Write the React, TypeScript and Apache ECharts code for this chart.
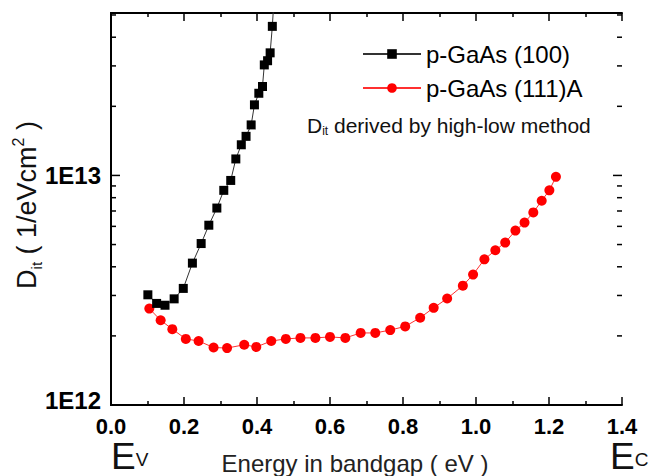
import React, { useEffect, useRef } from "react";
import * as echarts from "echarts";

const energyP100 = [0.101, 0.125, 0.148, 0.173, 0.198, 0.223, 0.247, 0.268, 0.290, 0.309, 0.328, 0.342, 0.357, 0.370, 0.384, 0.393, 0.405, 0.415, 0.420, 0.429, 0.436, 0.442, 0.447];
const ditP100 = [3.02e12, 2.77e12, 2.72e12, 2.90e12, 3.22e12, 4.15e12, 5.05e12, 6.07e12, 7.21e12, 8.61e12, 9.51e12, 1.18e13, 1.36e13, 1.48e13, 1.66e13, 2.03e13, 2.28e13, 2.44e13, 3.03e13, 3.16e13, 3.42e13, 4.46e13, 6.0e13];

const energyP111A = [0.105, 0.136, 0.168, 0.205, 0.240, 0.281, 0.318, 0.365, 0.398, 0.439, 0.479, 0.519, 0.560, 0.600, 0.642, 0.684, 0.724, 0.765, 0.806, 0.847, 0.884, 0.921, 0.964, 0.992, 1.023, 1.053, 1.080, 1.108, 1.133, 1.157, 1.180, 1.201, 1.219];
const ditP111A = [2.63e12, 2.34e12, 2.14e12, 1.94e12, 1.90e12, 1.78e12, 1.77e12, 1.83e12, 1.79e12, 1.90e12, 1.94e12, 1.96e12, 1.96e12, 1.98e12, 1.96e12, 2.06e12, 2.06e12, 2.12e12, 2.20e12, 2.40e12, 2.65e12, 2.91e12, 3.31e12, 3.70e12, 4.31e12, 4.72e12, 5.10e12, 5.75e12, 6.23e12, 6.90e12, 7.76e12, 8.61e12, 9.86e12];

const seriesNames = ["p-GaAs (100)", "p-GaAs (111)A"];
const yMajorTicks = [1e12, 1e13];
const yMinorTicks = [2e12, 3e12, 4e12, 5e12, 6e12, 7e12, 8e12, 9e12, 2e13, 3e13, 4e13, 5e13];

const FONT = "'Liberation Sans', Arial, sans-serif";

export default function App() {
  const ref = useRef<HTMLDivElement>(null);
  useEffect(() => {
    if (!ref.current) return;
    const chart = echarts.init(ref.current, null, { renderer: "svg" });
    const tickData = [
      ...yMajorTicks.map((v) => [0, v, 1]),
      ...yMinorTicks.map((v) => [0, v, 0]),
    ];
    const xAxisCommon = {
      type: "value",
      min: 0,
      max: 1.4,
      interval: 0.2,
      axisLine: { show: true, lineStyle: { color: "#000", width: 2 } },
      axisTick: { show: true, inside: true, length: 8, lineStyle: { color: "#000", width: 1.5 } },
      minorTick: { show: true, splitNumber: 2, length: 4, lineStyle: { color: "#000", width: 1.5 } },
      splitLine: { show: false },
      minorSplitLine: { show: false },
    };
    const yAxisCommon = {
      type: "log",
      logBase: 10,
      min: 1e12,
      max: 5.1e13,
      axisLine: { show: true, lineStyle: { color: "#000", width: 2 } },
      axisTick: { show: false },
      splitLine: { show: false },
    };
    const labelBase = { fontSize: 24, fontWeight: "bold", fontFamily: FONT, color: "#000" };
    const bandEdge = (letter: string, x: number) => ({
      type: "text",
      x,
      y: 456,
      style: {
        text: "{e|E}{s|" + letter + "}",
        align: "left",
        verticalAlign: "middle",
        rich: {
          e: { fontSize: 37, lineHeight: 26, fontFamily: FONT, fill: "#111", verticalAlign: "middle" },
          s: { fontSize: 19, lineHeight: 14, fontFamily: FONT, fill: "#111", verticalAlign: "bottom" },
        },
      },
    });
    chart.setOption({
      animation: false,
      backgroundColor: "#fff",
      grid: { left: 111, top: 13, width: 511, height: 392 },
      xAxis: [
        {
          ...xAxisCommon,
          position: "bottom",
          axisLabel: {
            show: true,
            margin: 10,
            color: "#000",
            fontSize: 22,
            fontWeight: "bold",
            fontFamily: FONT,
            formatter: (v: number) => v.toFixed(1),
          },
        },
        { ...xAxisCommon, position: "top", axisLabel: { show: false } },
      ],
      yAxis: [
        {
          ...yAxisCommon,
          position: "left",
          axisLabel: {
            show: true,
            margin: 10,
            showMaxLabel: false,
            formatter: (v: number) => {
              const exp = Math.round(Math.log10(v));
              return exp === 12 ? "{low|1E" + exp + "}" : "{n|1E" + exp + "}";
            },
            rich: {
              n: { ...labelBase },
              low: { ...labelBase, padding: [0, 0, 9, 0] },
            },
          },
        },
        { ...yAxisCommon, position: "right", axisLabel: { show: false } },
      ],
      legend: {
        orient: "vertical",
        left: 362,
        top: 40,
        padding: 0,
        itemWidth: 58,
        itemHeight: 12,
        itemGap: 6,
        data: seriesNames,
        textStyle: { fontSize: 24, lineHeight: 28, color: "#000", fontFamily: FONT },
      },
      series: [
        {
          name: seriesNames[0],
          type: "line",
          data: energyP100.map((e, i) => [e, ditP100[i]]),
          symbol: "rect",
          symbolSize: 9,
          itemStyle: { color: "#000" },
          lineStyle: { color: "#333", width: 1 },
          z: 3,
        },
        {
          name: seriesNames[1],
          type: "line",
          data: energyP111A.map((e, i) => [e, ditP111A[i]]),
          symbol: "circle",
          symbolSize: 10,
          itemStyle: { color: "#ff0000" },
          lineStyle: { color: "#ff3030", width: 1 },
          z: 2,
        },
        {
          name: "yticks",
          type: "custom",
          silent: true,
          z: 5,
          data: tickData,
          renderItem: (params: any, api: any) => {
            const cs = params.coordSys;
            const y = api.coord([0, api.value(1)])[1];
            const len = api.value(2) === 1 ? 9 : 5;
            const style = { stroke: "#000", lineWidth: 1.5 };
            return {
              type: "group",
              children: [
                { type: "line", shape: { x1: cs.x, y1: y, x2: cs.x + len, y2: y }, style },
                { type: "line", shape: { x1: cs.x + cs.width - len, y1: y, x2: cs.x + cs.width, y2: y }, style },
              ],
            };
          },
        },
      ],
      graphic: [
        {
          type: "text",
          x: 27,
          y: 205,
          rotation: Math.PI / 2,
          style: {
            text: "{a|D}{s|it}{a| ( 1/eVcm}{p|2}{a| )}",
            align: "center",
            verticalAlign: "middle",
            fill: "#111",
            rich: {
              a: { fontSize: 27, lineHeight: 34, fontFamily: FONT, fill: "#111", verticalAlign: "middle" },
              s: { fontSize: 15, lineHeight: 15, fontFamily: FONT, fill: "#111", verticalAlign: "bottom" },
              p: { fontSize: 16, lineHeight: 16, fontFamily: FONT, fill: "#111", verticalAlign: "top" },
            },
          },
        },
        {
          type: "text",
          x: 355,
          y: 463,
          style: {
            text: "Energy in bandgap ( eV )",
            align: "center",
            verticalAlign: "middle",
            fontSize: 24,
            fontFamily: FONT,
            fill: "#222",
          },
        },
        {
          type: "text",
          x: 307,
          y: 125,
          style: {
            text: "{a|D}{s|it}{a| derived by high-low method}",
            align: "left",
            verticalAlign: "middle",
            rich: {
              a: { fontSize: 21, lineHeight: 24, fontFamily: FONT, fill: "#111", verticalAlign: "middle" },
              s: { fontSize: 12, lineHeight: 12, fontFamily: FONT, fill: "#111", verticalAlign: "bottom" },
            },
          },
        },
        bandEdge("V", 111),
        bandEdge("C", 610),
      ],
    });
    return () => chart.dispose();
  }, []);
  return (
    <div
      ref={ref}
      style={{ position: "fixed", left: 0, top: 0, width: 652, height: 476, background: "#fff" }}
    />
  );
}
